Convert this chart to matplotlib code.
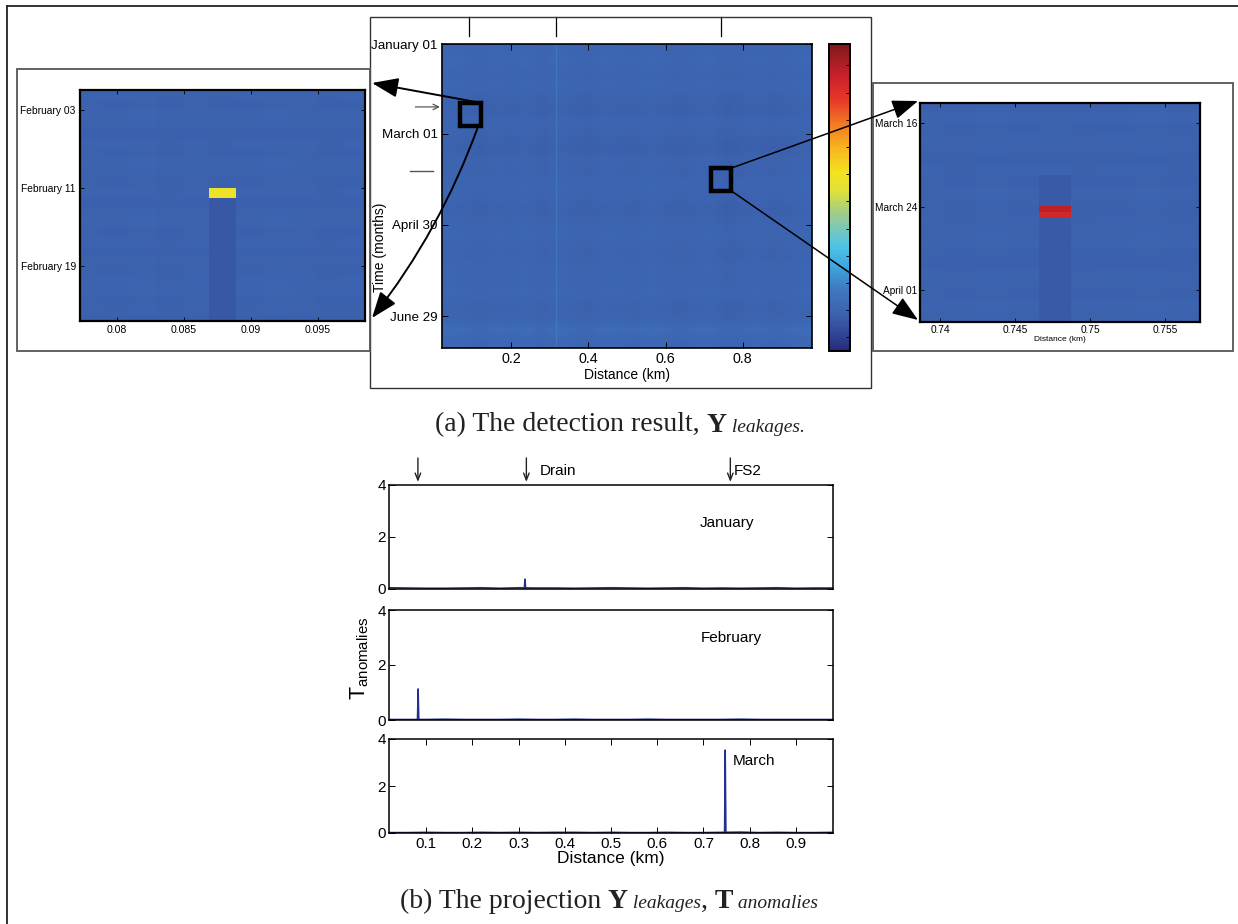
import numpy as np
import matplotlib
matplotlib.use('Agg')
import matplotlib.pyplot as plt
from matplotlib.colors import LinearSegmentedColormap
from matplotlib.patches import Rectangle
from matplotlib.offsetbox import TextArea, HPacker, AnchoredOffsetbox
from matplotlib.transforms import blended_transform_factory

plt.rcParams['font.family'] = ['Liberation Sans', 'DejaVu Sans']
plt.rcParams['mathtext.fontset'] = 'custom'
plt.rcParams['mathtext.sf'] = 'Liberation Sans'
plt.rcParams['mathtext.rm'] = 'Liberation Sans'

W, H = 1238, 924

# ---- data ----
# main map: days since January 01, distance in km
n_days = 200
dist_range = [0.02, 0.98]
date_ticks = [0, 59, 119, 179]
date_labels = ['January 01', 'March 01', 'April 30', 'June 29']
dist_ticks = [0.2, 0.4, 0.6, 0.8]
# background level of Y leakages (8-day bands x 0.04 km bands)
row_level = [0.010, 0.015, 0.005, 0.012, 0.000, -0.005, 0.008, 0.000, -0.008,
             0.004, 0.000, 0.010, 0.006, -0.004, 0.002, 0.012, 0.004, 0.000,
             0.010, 0.006, 0.014, 0.000, 0.004, 0.030, 0.016]
col_level = [0.010, 0.006, 0.000, 0.008, 0.004, 0.010, 0.000, 0.012, 0.004,
             0.000, 0.008, 0.006, 0.002, 0.010, 0.004, 0.000, 0.006, 0.008,
             -0.004, 0.002, 0.006, 0.000, 0.004, 0.010]
base_level = 0.12
drain_km = 0.317
fs2_km = 0.758
leak_km = [0.0875, 0.7475]
leak_day = [41, 82]
leak_val = [0.56, 0.88]
mark_day = [41.4, 83.5]
top_marks_km = [0.091, 0.317, 0.743]

# zoom windows (left: February leak, right: March leak)
left_xlim = [0.07724, 0.0985]
left_ylim = [54.6, 30.95]
left_yticks = [33, 41, 49]
left_ylabels = ['February 03', 'February 11', 'February 19']
left_xticks = [0.08, 0.085, 0.09, 0.095]
left_cells_x0, left_cell_w = 0.07688, 0.002
left_cells_day0 = 31
left_rows = [0.004, 0.000, 0.006, 0.002, -0.002, 0.004, 0.000, 0.006, 0.002, 0.000,
             0.004, -0.002, 0.002, 0.006, 0.000, 0.004, -0.002, 0.002, 0.000, 0.004,
             0.006, 0.000, 0.002, -0.002]
left_cols = [0.002, 0.001, 0.003, 0.000, 0.002, 0.000, 0.001, 0.003, 0.002, 0.000, 0.001]
left_leak_col, left_leak_row = 5, 10
left_trail = 0.100

right_xlim = [0.73867, 0.75733]
right_ylim = [93.07, 72.08]
right_yticks = [74, 82, 90]
right_ylabels = ['March 16', 'March 24', 'April 01']
right_xticks = [0.74, 0.745, 0.75, 0.755]
right_cells_x0, right_cell_w = 0.7382, 0.0021
right_cells_day0 = 72
right_rows = [0.002, 0.006, 0.000, 0.004, 0.002, -0.002, 0.004, 0.000, 0.006, 0.002,
              0.000, 0.004, 0.002, 0.006, 0.000, -0.002, 0.004, 0.002, 0.000, 0.006,
              0.002, 0.004]
right_cols = [0.002, 0.000, 0.003, 0.001, 0.002, 0.000, 0.001, 0.003, 0.000, 0.002]
right_leak_col = 4
right_trail_start = 7
right_leak_halfrows = [20, 21]
right_leak_vals = [0.91, 0.87]
right_trail = 0.102

# projection T anomalies per month
base_km = [0.02, 0.06, 0.10, 0.14, 0.18, 0.22, 0.26, 0.30, 0.34, 0.38, 0.42, 0.46, 0.50,
           0.54, 0.58, 0.62, 0.66, 0.70, 0.74, 0.78, 0.82, 0.86, 0.90, 0.94, 0.98]
jan_base = [0.05, 0.04, 0.03, 0.03, 0.04, 0.05, 0.03, 0.05, 0.04, 0.04, 0.03, 0.04, 0.05,
            0.04, 0.03, 0.04, 0.05, 0.03, 0.04, 0.03, 0.04, 0.05, 0.03, 0.04, 0.04]
feb_base = [0.02, 0.02, 0.02, 0.03, 0.02, 0.02, 0.02, 0.03, 0.02, 0.02, 0.03, 0.02, 0.02,
            0.02, 0.03, 0.02, 0.02, 0.02, 0.02, 0.03, 0.02, 0.02, 0.02, 0.02, 0.02]
mar_base = [0.02, 0.02, 0.03, 0.02, 0.02, 0.03, 0.02, 0.03, 0.02, 0.03, 0.03, 0.02, 0.03,
            0.02, 0.02, 0.03, 0.02, 0.02, 0.03, 0.04, 0.02, 0.03, 0.02, 0.02, 0.03]
jan_spike_km = [0.3125, 0.3140, 0.3155]
jan_spike = [0.04, 0.38, 0.04]
feb_spike_km = [0.0815, 0.0830, 0.0845]
feb_spike = [0.02, 1.13, 0.02]
mar_spike_km = [0.7455, 0.7470, 0.7485]
mar_spike = [0.02, 3.53, 0.02]
month_names = ['January', 'February', 'March']
month_pos = [(0.75, 2.54), (0.761, 2.98), (0.763, 3.06)]
proj_xticks = [0.1, 0.2, 0.3, 0.4, 0.5, 0.6, 0.7, 0.8, 0.9]

# printed-jet colours
cmap = LinearSegmentedColormap.from_list('printjet', [
    (0.00, '#262a78'), (0.06, '#33489a'), (0.12, '#3c62ae'), (0.20, '#3f78c0'),
    (0.28, '#3fa8e0'), (0.34, '#4ec3e6'), (0.40, '#7cc7b8'), (0.46, '#a9cf7c'),
    (0.52, '#dfe03a'), (0.58, '#f3e320'), (0.66, '#f8b51f'), (0.74, '#f27a25'),
    (0.82, '#e8362a'), (0.90, '#c8202a'), (1.00, '#7e1a1c')])

fig = plt.figure(figsize=(W / 100, H / 100), dpi=100)


def box(l, t, r, b):
    return [l / W, 1 - b / H, (r - l) / W, (b - t) / H]


def frame(ax, lw, color='black'):
    for s in ax.spines.values():
        s.set_linewidth(lw)
        s.set_color(color)


# ---- main map ----
ax = fig.add_axes(box(442, 44, 812, 348))
Y = base_level + np.add.outer(np.array(row_level), np.array(col_level))
im = ax.imshow(Y, cmap=cmap, vmin=0, vmax=1, aspect='auto', interpolation='bilinear',
               extent=[dist_range[0], dist_range[1], n_days, 0])
ax.axvline(drain_km, color='#5aa0d8', lw=0.8, alpha=0.25)
for km, d, v in zip(leak_km, leak_day, leak_val):
    ax.add_patch(Rectangle((km - 0.001, d), 0.002, 1.2, color=cmap(v), lw=0, alpha=0.7))
ax.set_xlim(dist_range)
ax.set_ylim(n_days, 0)
ax.set_yticks(date_ticks)
ax.set_yticklabels(date_labels, fontsize=9.6)
ax.set_xticks(dist_ticks)
ax.set_xticklabels([f'{t:.1f}' for t in dist_ticks], fontsize=10.3)
ax.tick_params(direction='in', top=True, right=True, length=4, width=0.7, pad=3)
ax.set_xlabel('Distance (km)', fontsize=10, labelpad=1)
ax.set_ylabel('Time (months)', fontsize=10)
ax.yaxis.set_label_coords(-0.148, 0.33)
frame(ax, 1.2)

# boxes around zoomed regions
ax.add_patch(Rectangle((0.0675, 38.8), 0.0545, 15.1, fill=False, ec='black', lw=3.2, clip_on=False, zorder=5))
ax.add_patch(Rectangle((0.717, 81.6), 0.054, 15.1, fill=False, ec='black', lw=3.2, clip_on=False, zorder=5))

# marks left of the map
ax.annotate('', xy=(-0.006, mark_day[0]), xycoords=('axes fraction', 'data'),
            xytext=(-0.072, mark_day[0]), textcoords=('axes fraction', 'data'),
            arrowprops=dict(arrowstyle='->', lw=0.8, color='#444444', shrinkA=0, shrinkB=0))
bt = blended_transform_factory(ax.transAxes, ax.transData)
ax.plot([-0.086, -0.024], [mark_day[1]] * 2, color='#555555', lw=1.0, transform=bt, clip_on=False)
bt2 = blended_transform_factory(ax.transData, ax.transAxes)
for km in top_marks_km:
    ax.plot([km, km], [1.026, 1.089], color='black', lw=0.9, transform=bt2, clip_on=False)

# colour bar
cax = fig.add_axes(box(829, 44, 850, 351))
cb = fig.colorbar(im, cax=cax)
cb.set_ticks(np.linspace(0.045, 0.93, 11))
cb.ax.tick_params(direction='in', length=3, width=0.7, labelright=False, right=True)
cb.outline.set_linewidth(1.4)

# ---- left zoom ----
axl = fig.add_axes(box(80, 90, 365, 321))
L = base_level + np.add.outer(np.array(left_rows), np.array(left_cols))
L[left_leak_row + 1:, left_leak_col] = left_trail
L[left_leak_row, left_leak_col] = leak_val[0]
axl.imshow(L, cmap=cmap, vmin=0, vmax=1, aspect='auto', interpolation='nearest',
           extent=[left_cells_x0, left_cells_x0 + left_cell_w * len(left_cols),
                   left_cells_day0 + len(left_rows), left_cells_day0])
axl.set_xlim(left_xlim)
axl.set_ylim(left_ylim)
axl.set_yticks(left_yticks)
axl.set_yticklabels(left_ylabels, fontsize=7.4)
axl.set_xticks(left_xticks)
axl.set_xticklabels([str(t) for t in left_xticks], fontsize=7.6)
axl.tick_params(direction='in', top=True, right=True, length=3, width=0.6, pad=3)
frame(axl, 1.6)

# ---- right zoom ----
axr = fig.add_axes(box(920, 103, 1200, 322))
R = base_level + np.add.outer(np.array(right_rows), np.array(right_cols))
R = np.repeat(R, 2, axis=0)
R[right_trail_start * 2:, right_leak_col] = right_trail
for hr, v in zip(right_leak_halfrows, right_leak_vals):
    R[hr, right_leak_col] = v
axr.imshow(R, cmap=cmap, vmin=0, vmax=1, aspect='auto', interpolation='nearest',
           extent=[right_cells_x0, right_cells_x0 + right_cell_w * len(right_cols),
                   right_cells_day0 + len(right_rows), right_cells_day0])
axr.set_xlim(right_xlim)
axr.set_ylim(right_ylim)
axr.set_yticks(right_yticks)
axr.set_yticklabels(right_ylabels, fontsize=7.3)
axr.set_xticks(right_xticks)
axr.set_xticklabels([str(t) for t in right_xticks], fontsize=7.3)
axr.tick_params(direction='in', top=True, right=True, length=3, width=0.6, pad=2)
axr.set_xlabel('Distance (km)', fontsize=6, labelpad=1)
frame(axr, 1.6)

# ---- projections ----
line_c = '#262f8f'
panels = [(485, 589), (610, 720), (739, 833)]
bases = [jan_base, feb_base, mar_base]
spikes = [(jan_spike_km, jan_spike), (feb_spike_km, feb_spike), (mar_spike_km, mar_spike)]
paxes = []
for i, (t, b) in enumerate(panels):
    pa = fig.add_axes(box(389, t, 833, b))
    pa.plot(base_km, bases[i], color=line_c, lw=1.1)
    pa.plot(spikes[i][0], spikes[i][1], color=line_c, lw=1.1)
    pa.set_xlim(dist_range)
    pa.set_ylim(0, 4)
    pa.set_yticks([0, 2, 4])
    pa.tick_params(axis='y', direction='in', right=True, length=4, width=0.7, labelsize=11, pad=2)
    pa.text(month_pos[i][0], month_pos[i][1], month_names[i], fontsize=11,
            ha='center' if i < 2 else 'left', va='center')
    frame(pa, 1.1)
    paxes.append(pa)
for pa in paxes[:2]:
    pa.set_xticks([])
p3 = paxes[2]
p3.set_xticks(proj_xticks)
p3.set_xticklabels([f'{t:.1f}' for t in proj_xticks])
p3.tick_params(axis='x', direction='in', top=True, length=4, width=0.7, labelsize=11, pad=3)
p3.set_xlabel('Distance (km)', fontsize=12.5, labelpad=0)
paxes[1].set_ylabel(r'$\mathsf{T}_{\mathsf{anomalies}}$', fontsize=15.5)
paxes[1].yaxis.set_label_coords(-0.04, 0.56)

p1 = paxes[0]
for km, name in [(leak_km[0] - 0.005, ''), (drain_km, 'Drain'), (fs2_km, 'FS2')]:
    p1.annotate('', xy=(km, 1.03), xycoords=('data', 'axes fraction'),
                xytext=(km, 1.26), textcoords=('data', 'axes fraction'),
                arrowprops=dict(arrowstyle='->,head_length=0.5,head_width=0.2', lw=1.0,
                                color='#222222', shrinkA=0, shrinkB=0))
    if name:
        p1.text(km + (0.03 if name == 'Drain' else 0.007), 1.135, name, fontsize=11,
                transform=blended_transform_factory(p1.transData, p1.transAxes), va='center')

# ---- overlay: frames, arrows, captions ----
ov = fig.add_axes([0, 0, 1, 1], zorder=10)
ov.set_xlim(0, W)
ov.set_ylim(H, 0)
ov.axis('off')
ov.plot([7, W], [6, 6], color='#222222', lw=1.3)
ov.plot([7, 7], [6, H], color='#222222', lw=1.3)
ov.add_patch(Rectangle((370, 17), 501, 371, fill=False, ec='#333333', lw=1.0))
ov.add_patch(Rectangle((17, 69), 353, 282, fill=False, ec='#555555', lw=1.3))
ov.add_patch(Rectangle((873, 83), 360, 268, fill=False, ec='#555555', lw=1.3))

big = dict(arrowstyle='-|>,head_length=0.8,head_width=0.3', mutation_scale=20,
           lw=1.4, color='black', shrinkA=0, shrinkB=0)
thin = dict(big, lw=1.1)
ov.annotate('', xy=(372, 83), xytext=(0.122, 38.8), textcoords=ax.transData, arrowprops=big)
ov.annotate('', xy=(372, 318), xytext=(0.114, 54.0), textcoords=ax.transData,
            arrowprops=dict(big, connectionstyle='arc3,rad=-0.08'))
ov.annotate('', xy=(918, 101), xytext=(0.771, 81.6), textcoords=ax.transData, arrowprops=thin)
ov.annotate('', xy=(918, 320), xytext=(0.771, 96.7), textcoords=ax.transData, arrowprops=thin)


def caption(parts, x, y):
    areas = []
    for txt, kw in parts:
        props = dict(family='Liberation Serif', color='#222222')
        props.update(kw)
        areas.append(TextArea(txt, textprops=props))
    pk = HPacker(children=areas, align='baseline', pad=0, sep=0)
    fig.add_artist(AnchoredOffsetbox(loc='center', child=pk, frameon=False, pad=0, borderpad=0,
                                     bbox_to_anchor=(x / W, 1 - y / H),
                                     bbox_transform=fig.transFigure))


reg = dict(fontsize=20)
bold = dict(fontsize=20, weight='bold')
ital = dict(fontsize=14, style='italic')
caption([('(a) The detection result, ', reg), ('Y', bold), (' leakages.', ital)], 620, 425)
caption([('(b) The projection ', reg), ('Y', bold), (' leakages', ital), (', ', reg),
         ('T', bold), (' anomalies', ital)], 609, 901)

fig.savefig('out.png', dpi=100)
